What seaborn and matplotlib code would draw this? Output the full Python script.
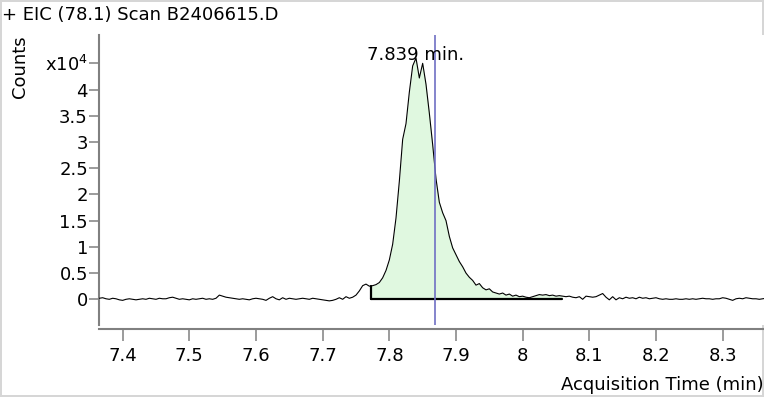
import matplotlib
matplotlib.use("Agg")
import matplotlib.pyplot as plt
import seaborn as sns
import pandas as pd
import numpy as np

# EIC trace, sampled every 0.005 min starting at 7.365 min (counts in x10^4)
t_start = 7.365
t_step = 0.005
counts = [
    0.02, 0.03, 0.01, 0.00, 0.02, 0.01, -0.01, -0.02, 0.00, 0.01, 0.00, -0.01, 0.00, 0.01, 0.00, 0.02, 0.01, 0.00, 0.02, 0.01,
    0.01, 0.03, 0.04, 0.02, 0.00, 0.01, 0.00, -0.01, 0.01, 0.00, 0.01, 0.02, 0.00, 0.01, 0.00, 0.02, 0.08, 0.06, 0.04, 0.03,
    0.02, 0.01, 0.00, 0.01, 0.00, -0.01, 0.01, 0.02, 0.01, 0.00, -0.02, 0.02, 0.05, 0.01, -0.01, 0.03, 0.00, 0.02, 0.01, 0.00,
    0.01, 0.02, 0.01, 0.00, 0.02, 0.01, 0.00, -0.01, -0.02, -0.03, -0.02, 0.00, 0.03, 0.00, 0.05, 0.02, 0.04, 0.08, 0.16, 0.26,
    0.29, 0.25, 0.26, 0.28, 0.32, 0.41, 0.55, 0.75, 1.05, 1.55, 2.25, 3.05, 3.35, 3.95, 4.45, 4.60, 4.22, 4.50, 4.10, 3.55,
    2.95, 2.30, 1.85, 1.65, 1.50, 1.20, 0.98, 0.85, 0.72, 0.62, 0.50, 0.42, 0.36, 0.27, 0.30, 0.22, 0.18, 0.20, 0.14, 0.12,
    0.10, 0.12, 0.08, 0.10, 0.06, 0.08, 0.05, 0.06, 0.04, 0.03, 0.05, 0.07, 0.09, 0.08, 0.09, 0.07, 0.08, 0.06, 0.07, 0.06,
    0.05, 0.06, 0.04, 0.03, 0.05, 0.00, 0.06, 0.05, 0.04, 0.05, 0.08, 0.11, 0.04, -0.01, 0.05, -0.01, 0.03, 0.01, 0.04, 0.02,
    0.03, 0.01, 0.04, 0.02, 0.03, 0.01, 0.02, 0.03, 0.01, 0.00, 0.01, 0.00, 0.00, 0.01, 0.00, 0.00, 0.01, 0.00, 0.01, 0.00,
    0.01, 0.02, 0.01, 0.01, 0.00, 0.01, 0.01, 0.03, 0.02, 0.00, -0.02, 0.01, 0.02, 0.01, 0.03, 0.02, 0.01, 0.01, 0.00, 0.01, 0.02,
]
times = np.round(t_start + t_step * np.arange(len(counts)), 4)

# integration window and peak info
int_start = 7.7725
int_end = 8.0595
base_level = 0.0
peak_rt = 7.839
marker_rt = 7.8685

x_ticks = [7.4, 7.5, 7.6, 7.7, 7.8, 7.9, 8.0, 8.1, 8.2, 8.3]
x_labels = ["7.4", "7.5", "7.6", "7.7", "7.8", "7.9", "8", "8.1", "8.2", "8.3"]
y_ticks = [0, 0.5, 1, 1.5, 2, 2.5, 3, 3.5, 4, 4.5]
y_labels = ["0", "0.5", "1", "1.5", "2", "2.5", "3", "3.5", "4", "x10$^4$"]

df = pd.DataFrame({"time": times, "counts": counts})

sns.set_style("white")
plt.rcParams["font.family"] = ["DejaVu Sans"]
plt.rcParams["text.color"] = "black"
plt.rcParams["xtick.labelcolor"] = "black"
plt.rcParams["ytick.labelcolor"] = "black"
fs = 13

fig = plt.figure(figsize=(7.64, 3.97), dpi=100)
fig.patch.set_edgecolor("#d6d6d6")
fig.patch.set_linewidth(1.5)
ax = fig.add_axes([99 / 764, 1 - 325 / 397, 1 - 99 / 764, (325 - 35) / 397])

# peak area
win = df[(df["time"] >= int_start) & (df["time"] <= int_end)]
wt = np.concatenate([[int_start], win["time"].values, [int_end]])
wc = np.concatenate([[np.interp(int_start, times, counts)], win["counts"].values,
                     [np.interp(int_end, times, counts)]])
ax.fill_between(wt, base_level, wc, color="#e0f8e0", lw=0, zorder=1)

sns.lineplot(data=df, x="time", y="counts", ax=ax, color="black", lw=0.8, zorder=3)

ax.plot([int_start, int_end], [base_level, base_level], color="black", lw=1.6, zorder=4)
ax.plot([int_start, int_start], [base_level, np.interp(int_start, times, counts)],
        color="black", lw=1.6, zorder=4)
ax.axvline(marker_rt, color="#7070c4", lw=1.2, zorder=5)
ax.text(peak_rt, 4.57, f"{peak_rt} min.", ha="center", va="baseline", fontsize=fs,
        color="black", zorder=6)

ax.set_xlim(7.3645, 8.362)
ax.set_ylim(-0.49, 5.04)
ax.set_xticks(x_ticks)
ax.set_xticklabels(x_labels)
ax.set_yticks(y_ticks)
ax.set_yticklabels(y_labels)
ax.set_xlabel("")
ax.set_ylabel("")

for s in ["top", "right"]:
    ax.spines[s].set_visible(False)
for s in ["left", "bottom"]:
    ax.spines[s].set_color("#808080")
    ax.spines[s].set_linewidth(1.5)
ax.spines["bottom"].set_position(("outward", 3))
ax.tick_params(axis="x", direction="out", length=8.5, width=1.1, color="#808080",
               labelsize=fs, labelcolor="black", pad=4, bottom=True)
ax.tick_params(axis="y", direction="out", length=7, width=1.1, color="#808080",
               labelsize=fs, labelcolor="black", pad=1, left=True)

fig.text(0.003, 1 - 15 / 397, "+ EIC (78.1) Scan B2406615.D", ha="left", va="center",
         fontsize=fs, color="black")
fig.text(20 / 764, 1 - 67 / 397, "Counts", rotation=90, ha="center", va="center",
         fontsize=fs, color="black")
fig.text(0.999, 1 - 385 / 397, "Acquisition Time (min)", ha="right", va="center",
         fontsize=fs, color="black")

fig.savefig("out.png", dpi=100)
